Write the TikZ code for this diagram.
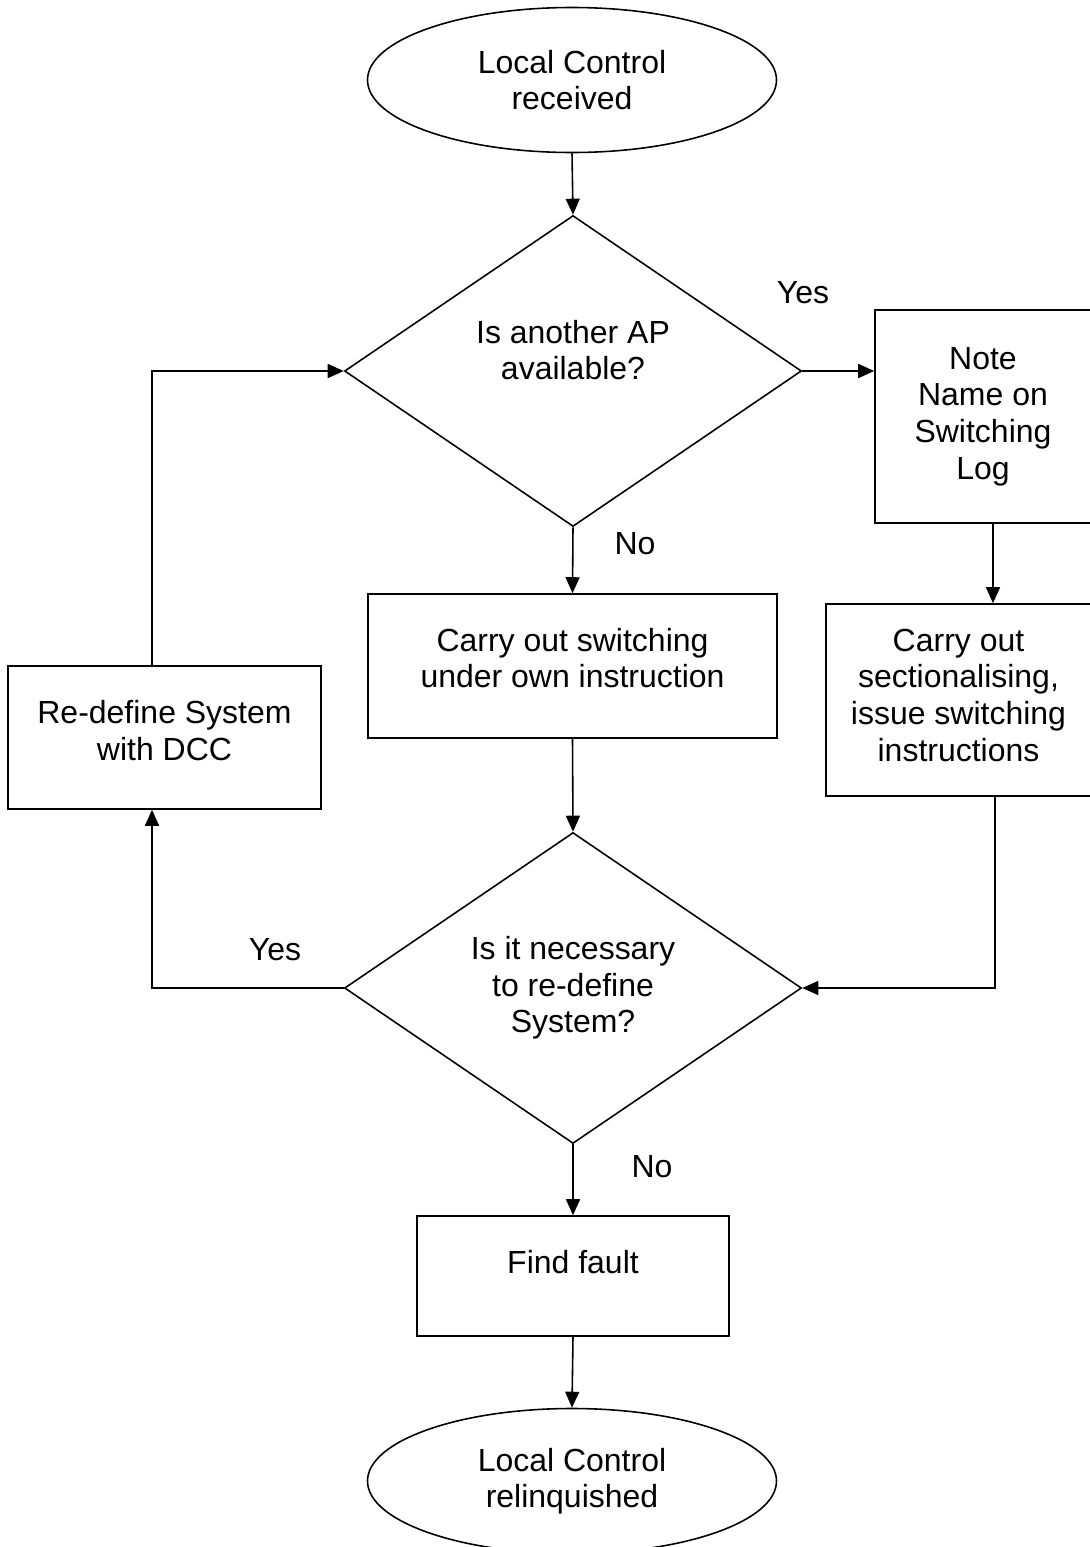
\documentclass[tikz,border=0pt]{standalone}
\usepackage{fontspec}
\setmainfont{Liberation Sans}
\usepackage{tikz}
\usetikzlibrary{calc,positioning,shapes.geometric,arrows.meta}

\begin{document}
\begin{tikzpicture}[>={Triangle[length=3.2mm,width=2.8mm]},line width=0.9pt,
  font=\fontsize{18.2}{20.8}\selectfont,
  term/.style={draw,ellipse,minimum width=8.18cm,minimum height=2.9cm,inner sep=0pt,align=center},
  proc/.style={draw,rectangle,inner sep=0pt,align=center},
  decision/.style={draw,diamond,minimum width=9.14cm,minimum height=6.22cm,inner sep=0pt,align=center}]
\useasboundingbox (0,0) rectangle (21.78,-30.94);
% start
\node[term] (recv) at (11.44,-1.60) {Local Control\\received};
% first question
\node[decision,text depth=0.84cm] (ap) at (11.46,-7.42) {Is another AP\\available?};
% right hand branch
\node[proc,minimum width=4.32cm,minimum height=4.26cm] (note) at (19.66,-8.33) {Note\\Name on\\Switching\\Log};
\node[proc,minimum width=5.30cm,minimum height=3.84cm,text depth=0.2cm] (sect) at (19.17,-14.00) {Carry out\\sectionalising,\\issue switching\\instructions};
% own switching
\node[proc,minimum width=8.18cm,minimum height=2.88cm,text depth=0.32cm] (own) at (11.45,-13.32) {Carry out switching\\under own instruction};
% re-define loop
\node[proc,minimum width=6.26cm,minimum height=2.86cm,text depth=0.28cm] (redef) at (3.29,-14.75) {Re-define System\\with DCC};
% second question
\node[decision] (nec) at (11.46,-19.76) {Is it necessary\\to re-define\\System?};
\node[proc,minimum width=6.24cm,minimum height=2.40cm,text depth=0.56cm] (fault) at (11.46,-25.52) {Find fault};
% end
\node[term] (relq) at (11.44,-29.62) {Local Control\\relinquished};
% yes / no labels
\node (yes1) at (16.06,-5.86) {Yes};
\node (no1) at (12.70,-10.88) {No};
\node (yes2) at (5.50,-19.00) {Yes};
\node (no2) at (13.04,-23.34) {No};
% arrows
\draw[->] (recv.south) -- (ap.north);
\draw[->] (ap.east) -- (ap.east -| note.west);
\draw[->] ([xshift=2mm]note.south) -- ([xshift=2mm]note.south |- sect.north);
\draw[->] ([xshift=7.3mm]sect.south) |- (nec.east);
\draw[->] (ap.south) -- (own.north);
\draw[->] (own.south) -- (nec.north);
\draw[->] (nec.west) -| ([xshift=-2.5mm]redef.south);
\draw[->] ([xshift=-2.5mm]redef.north) |- (ap.west);
\draw[->] (nec.south) -- (fault.north);
\draw[->] (fault.south) -- (relq.north);
\end{tikzpicture}
\end{document}
